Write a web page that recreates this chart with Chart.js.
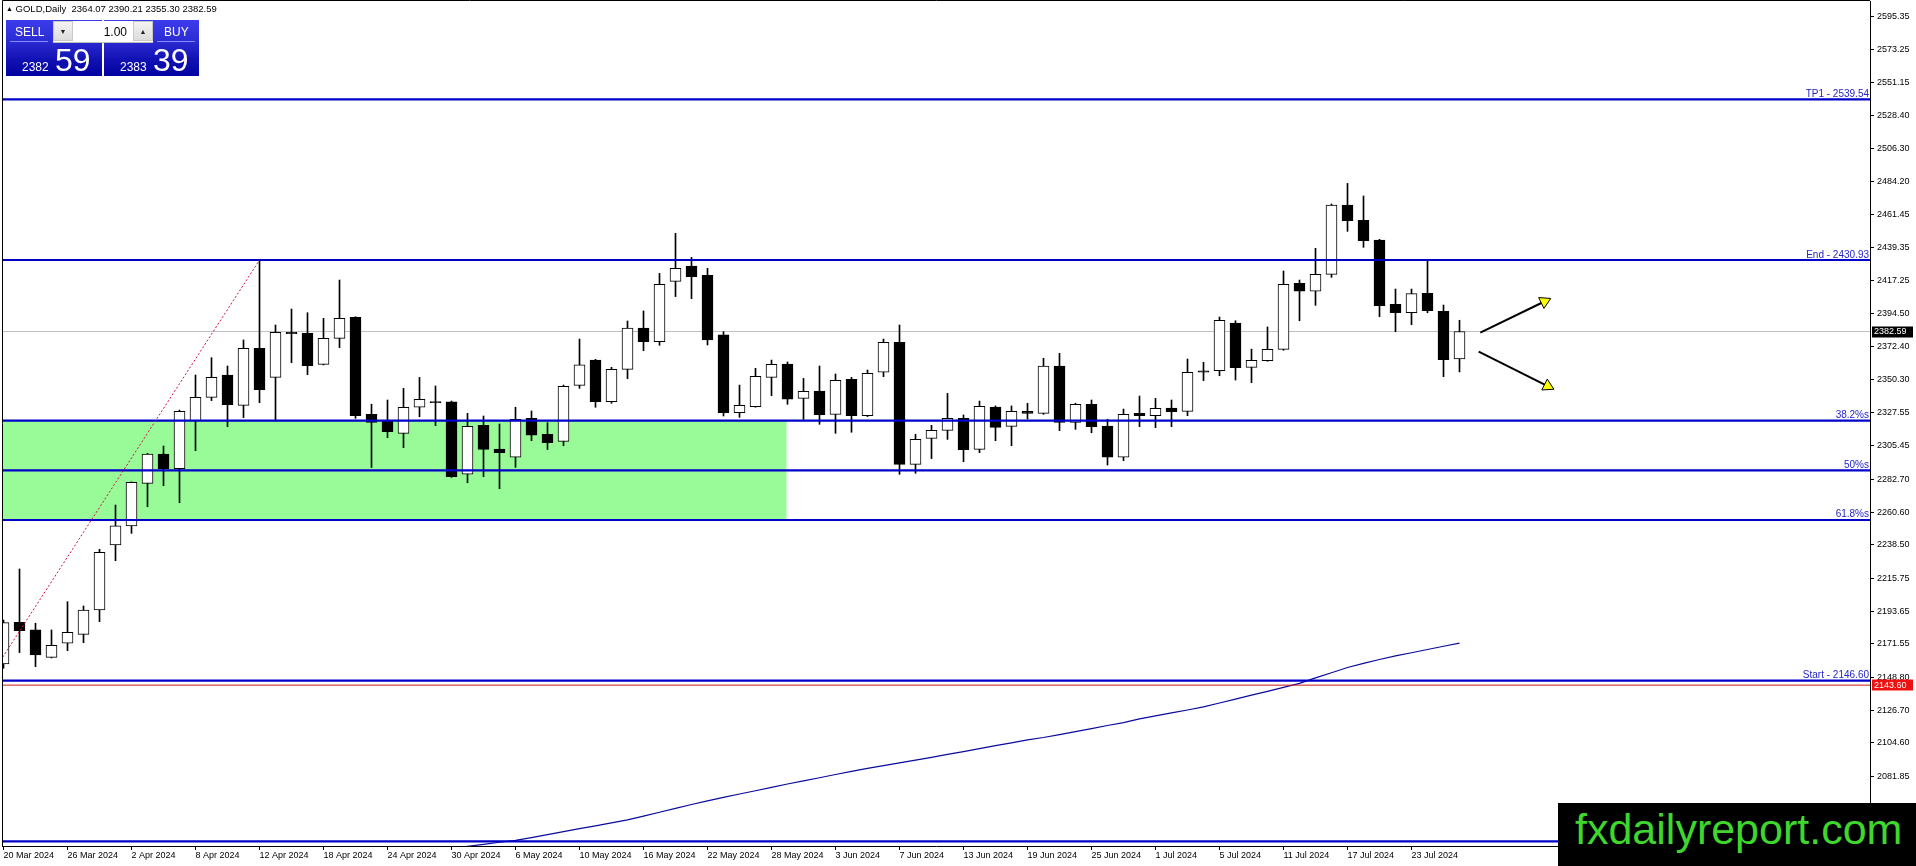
<!DOCTYPE html>
<html>
<head>
<meta charset="utf-8">
<script src="https://cdn.jsdelivr.net/npm/chart.js@4.4.1/dist/chart.umd.min.js"></script>
<style>
html,body{margin:0;padding:0;background:#fff;}
#wrap{position:relative;width:1916px;height:866px;overflow:hidden;font-family:"Liberation Sans",Arial,sans-serif;}
#c{position:absolute;left:0;top:0;}
.abs{position:absolute;white-space:pre;line-height:1;}
.hdr{left:6px;top:4px;font-size:9.5px;color:#000;}
.hdr .tri{font-size:7px;position:relative;top:-1px;}
.pnl{position:absolute;top:20px;height:56px;background:linear-gradient(#3c3cec 0%,#2d2dd6 35%,#1212b4 70%,#0202a0 100%);}
.sep{position:absolute;top:41px;height:1px;background:#8a8aff;}
.wt{color:#fff;}
.lot{position:absolute;left:53px;top:21px;width:100px;height:21px;background:#fff;border-bottom:1px solid #bbb;}
.btn{position:absolute;top:0;width:20px;height:20px;background:linear-gradient(#f4f4f4,#dcdcdc);border:1px solid #c8c8c8;box-sizing:border-box;font-size:7px;color:#222;text-align:center;line-height:20px;}
.wm{position:absolute;left:1558px;top:803px;width:358px;height:63px;background:#000;}
.wm span{position:absolute;left:17px;top:5px;font-size:43px;line-height:43px;color:#3fd62e;white-space:pre;}
</style>
</head>
<body>
<div id="wrap">
<canvas id="c" width="1916" height="866"></canvas>
<div class="abs hdr"><span class="tri">▲</span> GOLD,Daily  2364.07 2390.21 2355.30 2382.59</div>
<div class="pnl" style="left:6px;width:96px;"></div>
<div class="pnl" style="left:104px;width:95px;"></div>
<div class="sep" style="left:10px;width:38px;"></div>
<div class="sep" style="left:157px;width:38px;"></div>
<div class="abs wt" style="left:15px;top:25.5px;font-size:12px;">SELL</div>
<div class="abs wt" style="left:164px;top:25.5px;font-size:12px;">BUY</div>
<div class="abs wt" style="left:22px;top:60.8px;font-size:12px;">2382</div>
<div class="abs wt" style="left:55px;top:43.9px;font-size:32px;">59</div>
<div class="abs wt" style="left:120px;top:60.8px;font-size:12px;">2383</div>
<div class="abs wt" style="left:153px;top:43.9px;font-size:32px;">39</div>
<div class="lot">
  <div class="btn" style="left:0;">▼</div>
  <div class="abs" style="right:26px;top:5px;font-size:12px;color:#000;">1.00</div>
  <div class="btn" style="right:0;">▲</div>
</div>
<div class="wm"><span>fxdailyreport.com</span></div>
</div>
<script>
// ---- data ----
const DATES = [
'20 Mar 2024','21 Mar 2024','22 Mar 2024','25 Mar 2024','26 Mar 2024','27 Mar 2024','28 Mar 2024',
'1 Apr 2024','2 Apr 2024','3 Apr 2024','4 Apr 2024','5 Apr 2024','8 Apr 2024','9 Apr 2024','10 Apr 2024','11 Apr 2024','12 Apr 2024','15 Apr 2024','16 Apr 2024','17 Apr 2024','18 Apr 2024','19 Apr 2024','22 Apr 2024','23 Apr 2024','24 Apr 2024','25 Apr 2024','26 Apr 2024','29 Apr 2024','30 Apr 2024',
'1 May 2024','2 May 2024','3 May 2024','6 May 2024','7 May 2024','8 May 2024','9 May 2024','10 May 2024','13 May 2024','14 May 2024','15 May 2024','16 May 2024','17 May 2024','20 May 2024','21 May 2024','22 May 2024','23 May 2024','24 May 2024','27 May 2024','28 May 2024','29 May 2024','30 May 2024','31 May 2024',
'3 Jun 2024','4 Jun 2024','5 Jun 2024','6 Jun 2024','7 Jun 2024','10 Jun 2024','11 Jun 2024','12 Jun 2024','13 Jun 2024','14 Jun 2024','17 Jun 2024','18 Jun 2024','19 Jun 2024','20 Jun 2024','21 Jun 2024','24 Jun 2024','25 Jun 2024','26 Jun 2024','27 Jun 2024','28 Jun 2024',
'1 Jul 2024','2 Jul 2024','3 Jul 2024','4 Jul 2024','5 Jul 2024','8 Jul 2024','9 Jul 2024','10 Jul 2024','11 Jul 2024','12 Jul 2024','15 Jul 2024','16 Jul 2024','17 Jul 2024','18 Jul 2024','19 Jul 2024','22 Jul 2024','23 Jul 2024','24 Jul 2024','25 Jul 2024','26 Jul 2024'
];
const OPEN = [2157.9,2186.0,2180.9,2162.4,2171.9,2177.9,2194.4,2238.3,2251.2,2280.0,
2299.8,2289.9,2322.1,2338.1,2353.2,2332.7,2371.2,2351.6,2382.0,2381.4,
2360.4,2378.0,2392.2,2326.7,2322.1,2313.8,2331.4,2334.9,2335.0,2286.1,
2319.2,2303.2,2297.6,2323.9,2313.1,2308.4,2346.2,2363.3,2335.2,2357.0,
2385.0,2375.7,2416.5,2426.9,2420.6,2380.3,2327.8,2331.8,2351.6,2360.6,
2337.4,2342.4,2326.6,2350.3,2325.7,2355.2,2375.3,2292.8,2310.4,2315.8,
2323.9,2302.9,2331.6,2318.5,2328.6,2327.3,2359.3,2321.2,2333.4,2318.7,
2297.6,2327.3,2325.7,2330.9,2328.6,2356.0,2356.1,2388.3,2358.4,2362.9,
2370.5,2415.2,2409.8,2421.2,2468.1,2457.7,2444.4,2401.0,2395.3,2408.4,
2396.2,2364.07];
const HIGH = [2187.6,2222.1,2185.4,2180.9,2200.0,2197.1,2235.4,2265.3,2281.0,2300.3,
2305.2,2329.5,2353.2,2364.9,2359.3,2376.9,2430.93,2387.0,2397.8,2395.3,
2391.5,2417.4,2392.6,2333.5,2336.3,2344.2,2351.6,2345.8,2335.6,2327.3,
2325.5,2320.1,2331.4,2328.9,2321.0,2346.4,2377.5,2363.8,2358.4,2389.7,
2396.5,2421.9,2449.0,2432.7,2425.3,2382.5,2346.4,2357.7,2363.3,2362.0,
2350.9,2359.3,2353.9,2351.6,2356.6,2377.5,2387.0,2313.1,2319.2,2340.8,
2326.2,2335.6,2332.3,2332.3,2334.1,2364.5,2367.9,2334.1,2336.3,2323.3,
2330.2,2339.0,2337.4,2336.3,2364.0,2361.8,2392.4,2389.9,2370.7,2385.7,
2423.5,2417.4,2438.8,2468.8,2482.7,2474.2,2444.9,2411.3,2411.3,2431.4,
2400.5,2390.21];
const LOW = [2155.0,2165.6,2156.1,2162.0,2166.9,2172.3,2186.5,2227.7,2246.2,2264.2,
2278.4,2266.9,2302.1,2335.9,2318.3,2324.4,2334.5,2322.1,2361.5,2353.4,
2360.0,2371.7,2323.9,2290.7,2310.9,2304.1,2325.0,2319.0,2284.0,2280.4,
2284.5,2276.4,2290.8,2308.8,2302.9,2305.4,2344.2,2331.4,2334.1,2350.7,
2369.6,2373.3,2406.2,2404.8,2373.5,2325.5,2324.6,2331.4,2339.2,2333.4,
2323.2,2319.9,2313.8,2314.5,2325.1,2352.1,2286.1,2286.8,2296.7,2309.7,
2294.6,2300.7,2308.8,2305.4,2323.5,2326.6,2315.6,2316.5,2314.2,2292.4,
2295.3,2318.3,2317.6,2318.3,2325.7,2349.4,2352.7,2349.8,2348.0,2362.5,
2369.9,2389.9,2400.3,2419.2,2450.3,2439.5,2392.6,2382.5,2387.2,2395.3,
2352.1,2355.30];
const CLOSE = [2185.8,2180.4,2164.0,2170.5,2179.3,2194.4,2233.4,2251.2,2280.7,2299.8,
2289.9,2328.6,2338.1,2351.6,2333.2,2371.2,2343.3,2382.0,2381.1,2359.5,
2378.0,2391.5,2325.7,2321.1,2314.9,2331.4,2336.8,2334.5,2284.5,2318.5,
2302.9,2300.7,2323.2,2312.6,2307.5,2345.5,2360.0,2335.2,2357.0,2385.0,
2375.7,2414.5,2425.3,2419.7,2376.9,2327.8,2332.7,2352.3,2360.4,2336.8,
2342.2,2326.4,2349.6,2325.7,2354.3,2375.3,2292.8,2309.7,2315.8,2323.9,
2302.7,2332.0,2317.8,2328.6,2327.3,2359.3,2321.2,2333.4,2318.3,2297.6,
2326.6,2325.7,2330.7,2328.4,2355.0,2355.2,2390.2,2358.2,2363.1,2370.5,
2414.5,2409.8,2421.2,2468.1,2457.5,2444.0,2400.1,2395.3,2408.2,2396.7,
2363.6,2382.59];
const MA_START = 28;
const MA = [2033.0,2034.6,2036.0,2037.4,2038.7,2040.6,2042.6,2044.6,2046.6,2048.5,
2050.5,2052.5,2055.1,2057.7,2060.3,2062.9,2065.4,2067.7,2070.0,2072.2,
2074.5,2076.8,2078.9,2081.0,2083.2,2085.3,2087.4,2089.2,2091.0,2092.9,
2094.8,2096.8,2098.7,2100.7,2102.7,2104.6,2106.6,2108.2,2110.2,2112.2,
2114.2,2116.3,2118.3,2120.8,2122.8,2124.8,2126.8,2128.9,2131.5,2134.1,
2136.8,2139.4,2142.1,2144.8,2148.5,2152.0,2155.5,2158.3,2160.9,2163.4,
2165.5,2167.7,2169.9,2172.0];
const Y_TICKS = [2595.35,2573.25,2551.15,2528.40,2506.30,2484.20,2461.45,2439.35,2417.25,2394.50,2372.40,2350.30,2327.55,2305.45,2282.70,2260.60,2238.50,2215.75,2193.65,2171.55,2148.80,2126.70,2104.60,2081.85];
const X_TICK_STEP = 4;
const FIB_LEVELS = [2539.54,2430.93,2322.32,2288.77,2255.21,2146.60,2038.00];
const FIB_LABELS = ['TP1 - 2539.54','End - 2430.93','38.2%s','50%s','61.8%s','Start - 2146.60',''];
const FIB_START = {x:-1, y:2146.60};
const FIB_END = {x:16, y:2430.93};
const ZONE_TOP = 2322.32, ZONE_BOTTOM = 2255.21, ZONE_END = 48.95;
const BID = 2382.59;
const RED_LEVEL = 2143.60;
const ARROWS = [
  {from:{x:92.3,y:2381.8}, to:{x:96.31,y:2402.9}, rot:64},
  {from:{x:92.2,y:2369.0}, to:{x:96.51,y:2345.7}, rot:116.6}
];
// axis ranges
const X_MIN = -0.09375, X_MAX = 116.65625;
const Y_MIN = 2034.88, Y_MAX = 2605.98;

const FONT = '"Liberation Sans", Arial, sans-serif';
const BLUE = '#0000c8';

const hline = (v, color, w, order) => ({type:'line', data:[{x:X_MIN,y:v},{x:X_MAX,y:v}], borderColor:color, borderWidth:w, pointRadius:0, order});

const datasets = [];
datasets.push({type:'line', data:[{x:X_MIN,y:ZONE_TOP},{x:ZONE_END,y:ZONE_TOP}], fill:{value:ZONE_BOTTOM}, backgroundColor:'#98fb98', borderWidth:0, pointRadius:0, order:100});
datasets.push(hline(BID, '#c0c0c0', 1, 90));
datasets.push({type:'bar', data:HIGH.map((h,i)=>({x:i,y:[LOW[i],h]})), backgroundColor:'#000', borderWidth:0, barThickness:1, grouped:false, order:50});
datasets.push({type:'bar', data:OPEN.map((o,i)=>({x:i,y:[o,CLOSE[i]]})), backgroundColor:OPEN.map((o,i)=>CLOSE[i]>=o?'#ffffff':'#000000'), borderColor:'#000', borderWidth:1, borderSkipped:false, barThickness:11, grouped:false, minBarLength:1, order:40});
datasets.push({type:'line', data:MA.map((v,k)=>({x:MA_START+k,y:v})), borderColor:'#0a0a9c', borderWidth:1.2, pointRadius:0, order:20});
FIB_LEVELS.forEach(v=>datasets.push(hline(v, BLUE, 2.2, 10)));
datasets.push(hline(RED_LEVEL, '#d01818', 1, 11));
datasets.push({type:'line', data:[FIB_START, FIB_END], borderColor:'#d0103a', borderWidth:1, borderDash:[2,2], pointRadius:0, order:9});
ARROWS.forEach(a=>datasets.push({type:'line', data:[a.from,a.to], borderColor:'#000', borderWidth:2, pointStyle:'triangle', pointRadius:[0,7], pointRotation:[0,a.rot], pointBackgroundColor:'#ffff00', pointBorderColor:'#000', pointBorderWidth:1, order:5}));

const overlay = {
  id:'overlay',
  afterDatasetsDraw(chart){
    const {ctx, chartArea:a, scales:{y}} = chart;
    ctx.save();
    ctx.font = '10px ' + FONT;
    ctx.fillStyle = '#2424c8';
    ctx.textAlign = 'right';
    ctx.textBaseline = 'alphabetic';
    FIB_LABELS.forEach((t,i)=>{ if(t) ctx.fillText(t, a.right-1, y.getPixelForValue(FIB_LEVELS[i]) - 2.5); });
    ctx.restore();
  },
  afterDraw(chart){
    const {ctx, chartArea:a, scales:{y}} = chart;
    ctx.save();
    ctx.strokeStyle = '#000'; ctx.lineWidth = 1;
    ctx.beginPath();
    ctx.moveTo(a.left+0.5, a.bottom); ctx.lineTo(a.left+0.5, 0.5); ctx.lineTo(a.right, 0.5);
    ctx.stroke();
    ctx.font = '9px ' + FONT;
    ctx.textBaseline = 'middle'; ctx.textAlign = 'left';
    [[BID,'#000000'],[RED_LEVEL,'#ee1111']].forEach(([v,c])=>{
      const py = y.getPixelForValue(v);
      ctx.fillStyle = c;
      ctx.fillRect(a.right+2, Math.round(py)-5.5, 41, 11);
      ctx.fillStyle = '#fff';
      ctx.fillText(v.toFixed(2), a.right+4, py);
    });
    ctx.restore();
  }
};

new Chart(document.getElementById('c'), {
  type:'bar',
  data:{datasets},
  plugins:[overlay],
  options:{
    responsive:false, devicePixelRatio:1, animation:false, events:[],
    layout:{autoPadding:false, padding:{left:2, top:1, right:0, bottom:0}},
    plugins:{legend:{display:false}, tooltip:{enabled:false}},
    scales:{
      x:{type:'linear', min:X_MIN, max:X_MAX, offset:false, position:'bottom',
        grid:{display:true, drawOnChartArea:false, drawTicks:true, tickLength:4, color:'#000', offset:false},
        border:{display:true, color:'#000'},
        afterBuildTicks(s){ s.ticks = DATES.map((d,i)=>i).filter(i=>i%X_TICK_STEP===0).map(i=>({value:i})); },
        afterFit(s){ s.height = 20; s.paddingLeft = 0; s.paddingRight = 0; s.paddingTop = 0; s.paddingBottom = 0; },
        ticks:{autoSkip:false, maxRotation:0, minRotation:0, align:'start', padding:0, color:'#000', font:{size:9, family:FONT}, callback:(v)=>DATES[v]}
      },
      y:{type:'linear', min:Y_MIN, max:Y_MAX, position:'right',
        grid:{display:true, drawOnChartArea:false, drawTicks:true, tickLength:4, color:'#000'},
        border:{display:true, color:'#000'},
        afterBuildTicks(s){ s.ticks = Y_TICKS.map(v=>({value:v})); },
        afterFit(s){ s.width = 46; s.paddingTop = 0; s.paddingBottom = 0; s.paddingLeft = 0; s.paddingRight = 0; },
        ticks:{autoSkip:false, padding:3, color:'#000', font:{size:9, family:FONT}, callback:(v)=>Number(v).toFixed(2)}
      }
    }
  }
});
</script>
</body>
</html>
